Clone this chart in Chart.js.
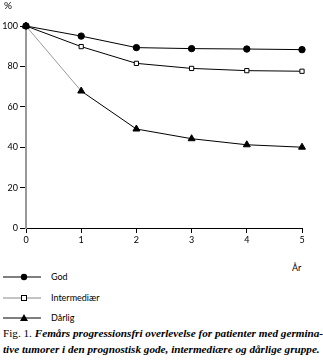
<!doctype html>
<html lang="da">
<head>
<meta charset="utf-8" />
<title>Fig. 1</title>
<script src="https://cdn.jsdelivr.net/npm/chart.js@4.4.1/dist/chart.umd.min.js"></script>
<style>
  *{box-sizing:border-box;margin:0;padding:0}
  html,body{width:323px;height:361px;background:#fff;overflow:hidden}
  body{position:relative;font-family:Lato,"DejaVu Sans",sans-serif;color:#000}
  #wrap{position:absolute;left:0;top:0;width:323px;height:250px}
  #pct{position:absolute;left:4px;top:-1px;font-size:10px}
  #aar{position:absolute;left:292px;top:262px;font-size:9px}
  .leg{position:absolute;left:3px;font-size:9px;height:12px;line-height:12px}
  .leg svg{position:absolute;left:0;top:0}
  .leg span{position:absolute;left:48px;top:0;white-space:nowrap}
  #cap{position:absolute;left:3px;top:325px;font-family:"Liberation Serif",serif;font-size:11.2px;line-height:16px;white-space:nowrap}
  #cap i{font-weight:bold}
</style>
</head>
<body>
<div id="wrap"><canvas id="c"></canvas></div>
<div id="pct">%</div>
<div id="aar">År</div>

<div class="leg" style="top:271px">
  <svg width="40" height="12"><line x1="0" y1="6" x2="38" y2="6" stroke="#000"/><circle cx="21" cy="6" r="3.2" fill="#000"/></svg>
  <span>God</span>
</div>
<div class="leg" style="top:292px">
  <svg width="40" height="12"><line x1="0" y1="6" x2="38" y2="6" stroke="#888"/><rect x="18.5" y="3.5" width="5" height="5" fill="#fff" stroke="#000"/></svg>
  <span>Intermediær</span>
</div>
<div class="leg" style="top:312px">
  <svg width="40" height="12"><line x1="0" y1="6" x2="38" y2="6" stroke="#000"/><polygon points="21,2 25,9 17,9" fill="#000"/></svg>
  <span>Dårlig</span>
</div>

<div id="cap">Fig. 1. <i>Femårs progressionsfri overlevelse for patienter med germina-</i><br><i>tive tumorer i den prognostisk gode, intermediære og dårlige gruppe.</i></div>

<script>
  // data
  const years = [0, 1, 2, 3, 4, 5];
  const god = [100, 95, 89.3, 88.8, 88.6, 88.3];
  const intermediaer = [100, 89.8, 81.5, 79, 77.9, 77.6];
  const daarlig = [100, 67.8, 49, 44.2, 41.2, 40];
  const yTicks = [0, 20, 40, 60, 80, 100];

  const pts = arr => arr.map((v, i) => ({x: years[i], y: v}));

  new Chart(document.getElementById('c'), {
    type: 'line',
    data: {
      datasets: [
        {label:'God', data:pts(god), borderColor:'#000', borderWidth:1,
         pointStyle:'circle', pointRadius:3.2, pointBackgroundColor:'#000', pointBorderColor:'#000'},
        {label:'Intermediær', data:pts(intermediaer), borderColor:'#000', borderWidth:1,
         pointStyle:'rect', pointRadius:3, pointBackgroundColor:'#fff', pointBorderColor:'#000', pointBorderWidth:1},
        {label:'Dårlig', data:pts(daarlig), borderColor:'#000', borderWidth:1,
         pointStyle:'triangle', pointRadius:4, pointBackgroundColor:'#000', pointBorderColor:'#000',
         segment:{borderColor: c => c.p0DataIndex === 0 ? '#999' : '#000'}}
      ]
    },
    options: {
      responsive:true, maintainAspectRatio:false, animation:false,
      clip:false,
      layout:{padding:{left:0, right:21, top:26, bottom:0}},
      plugins:{legend:{display:false}, tooltip:{enabled:false}},
      elements:{line:{tension:0}},
      scales:{
        x:{
          type:'linear', min:0, max:5,
          afterBuildTicks: s => { s.ticks = years.map(v => ({value:v})); },
          afterFit: s => { s.height = 22; },
          border:{color:'#000', width:1},
          grid:{drawOnChartArea:false, drawTicks:true, tickLength:5, color:'#000'},
          ticks:{color:'#000', font:{family:'Lato', size:9}, padding:2}
        },
        y:{
          min:0, max:100,
          afterBuildTicks: s => { s.ticks = yTicks.map(v => ({value:v})); },
          afterFit: s => { s.width = 26; },
          border:{color:'#999', width:2},
          grid:{drawOnChartArea:false, drawTicks:true, tickLength:6, color:'#000'},
          ticks:{color:'#000', font:{family:'Lato', size:9}, padding:2}
        }
      }
    }
  });
</script>
</body>
</html>
